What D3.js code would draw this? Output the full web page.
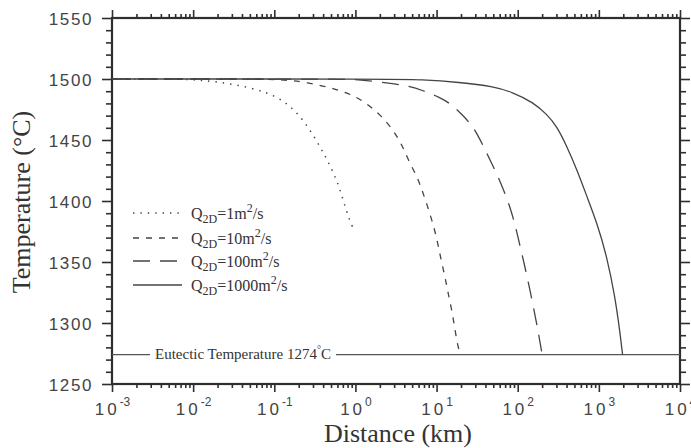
<!DOCTYPE html>
<html>
<head>
<meta charset="utf-8">
<script src="https://cdn.jsdelivr.net/npm/d3@7"></script>
<style>
  body { margin: 0; background: #fff; }
  svg { display: block; }
</style>
</head>
<body>
<div id="chart"></div>
<script>
// values: distance (km), temperature (C)
var q1Dist = [0.001, 0.006, 0.0122, 0.031, 0.0813, 0.1436, 0.226, 0.336, 0.447, 0.593, 0.703, 0.857, 0.95];
var q1Temp = [1500, 1500, 1499.3, 1496, 1489.5, 1480.5, 1467, 1449, 1434, 1417, 1401, 1383, 1377];

var q10Dist = [0.001, 0.06, 0.117, 0.253, 0.593, 0.908, 1.31, 2.01, 2.90, 3.75, 4.45, 5.74, 6.62, 7.62, 8.79, 10.1, 11.0, 12.7, 13.8, 15.5, 16.9, 18.4, 19.8];
var q10Temp = [1500, 1500, 1499.6, 1497.5, 1491.5, 1487, 1481, 1471, 1458.5, 1446, 1434, 1420, 1409, 1397, 1384, 1369, 1356, 1338, 1325, 1310, 1294, 1280, 1274];

var q100Dist = [0.001, 0.6, 1.14, 2.67, 4.71, 6.62, 11.0, 15.5, 23.7, 31.5, 43.0, 60.5, 85.1, 101, 123, 150, 178, 200];
var q100Temp = [1500, 1500, 1499.6, 1496.5, 1494, 1490.8, 1485, 1479, 1467, 1456, 1437, 1417, 1391, 1370, 1346, 1319, 1294, 1274];

var q1000Dist = [0.001, 3, 6.25, 19.4, 49.6, 87.5, 154, 230, 305, 405, 538, 714, 949, 1261, 1582, 1823, 1960];
var q1000Temp = [1500, 1500, 1499.6, 1497.3, 1494, 1489, 1481, 1471, 1461, 1444.5, 1425.5, 1403.5, 1382, 1354, 1321.5, 1292, 1274];

var seriesNames = ["1", "10", "100", "1000"];
var eutectic = 1274;

var xMajor = [-3, -2, -1, 0, 1, 2, 3, 4];
var yMajor = [1250, 1300, 1350, 1400, 1450, 1500, 1550];

function base() {
    var w = 691, h = 448;
    var left = 112, right = 680, top = 18, bottom = 384;
    var ink = "#2e2e2e";

    var x = d3.scaleLog().domain([1e-3, 1e4]).range([left, right]);
    var y = d3.scaleLinear().domain([1250, 1550]).range([bottom, top]);

    var svg = d3.select("#chart")
        .append("svg")
        .attr("width", w)
        .attr("height", h);

    // minor tick values
    var xMinor = [];
    for (var e = -3; e < 4; e++) {
        for (var m = 2; m <= 9; m++) xMinor.push(m * Math.pow(10, e));
    }
    var yMinor = d3.range(1250, 1551, 10).filter(function(v) { return v % 50 != 0; });
    var xMajorVals = xMajor.map(function(e) { return Math.pow(10, e); });

    function styleAxis(g) {
        g.select(".domain").remove();
        g.selectAll("line").attr("stroke", ink).attr("stroke-width", 1.6);
    }

    // bottom / top
    svg.append("g").attr("transform", "translate(0," + bottom + ")")
        .call(d3.axisBottom(x).tickValues(xMinor).tickSize(4).tickFormat("")).call(styleAxis);
    var bx = svg.append("g").attr("transform", "translate(0," + bottom + ")")
        .call(d3.axisBottom(x).tickValues(xMajorVals).tickSize(8).tickFormat("")).call(styleAxis);
    svg.append("g").attr("transform", "translate(0," + top + ")")
        .call(d3.axisTop(x).tickValues(xMinor).tickSize(4).tickFormat("")).call(styleAxis);
    svg.append("g").attr("transform", "translate(0," + top + ")")
        .call(d3.axisTop(x).tickValues(xMajorVals).tickSize(8).tickFormat("")).call(styleAxis);

    // left / right
    svg.append("g").attr("transform", "translate(" + left + ",0)")
        .call(d3.axisLeft(y).tickValues(yMinor).tickSize(6).tickFormat("")).call(styleAxis);
    var ly = svg.append("g").attr("transform", "translate(" + left + ",0)")
        .call(d3.axisLeft(y).tickValues(yMajor).tickSize(10).tickFormat("")).call(styleAxis);
    svg.append("g").attr("transform", "translate(" + right + ",0)")
        .call(d3.axisRight(y).tickValues(yMinor).tickSize(6).tickFormat("")).call(styleAxis);
    svg.append("g").attr("transform", "translate(" + right + ",0)")
        .call(d3.axisRight(y).tickValues(yMajor).tickSize(10).tickFormat("")).call(styleAxis);

    // frame
    svg.append("rect")
        .attr("x", left).attr("y", top)
        .attr("width", right - left).attr("height", bottom - top)
        .attr("fill", "none").attr("stroke", ink).attr("stroke-width", 2.2);

    // y tick labels
    ly.selectAll(".tick").append("text")
        .attr("x", -19).attr("dy", "0.36em")
        .attr("text-anchor", "end")
        .attr("fill", "#444")
        .style("font-family", "Liberation Sans, Arial, sans-serif")
        .style("font-size", "17px")
        .style("letter-spacing", "1.6px")
        .text(function(d) { return d; });

    // x tick labels 10^n
    bx.selectAll(".tick").each(function(d) {
        var ex = Math.round(Math.log10(d));
        var t = d3.select(this).append("text")
            .attr("y", 31)
            .attr("text-anchor", "middle")
            .attr("fill", "#444")
            .style("font-family", "Liberation Sans, Arial, sans-serif")
            .style("font-size", "17px");
        t.append("tspan").style("letter-spacing", "3px").text("10");
        t.append("tspan").attr("dy", -9).style("font-size", "12px")
            .text(ex < 0 ? "-" + Math.abs(ex) : ex);
    });

    // axis titles
    svg.append("text")
        .attr("x", 398).attr("y", 442)
        .attr("text-anchor", "middle")
        .attr("fill", "#333")
        .style("font-family", "Liberation Serif, Times New Roman, serif")
        .style("font-size", "26px")
        .text("Distance (km)");

    svg.append("text")
        .attr("transform", "translate(30," + 202 + ") rotate(-90)")
        .attr("text-anchor", "middle")
        .attr("fill", "#333")
        .style("font-family", "Liberation Serif, Times New Roman, serif")
        .style("font-size", "26px")
        .text("Temperature (\u00B0C)");

    // eutectic line and label
    svg.append("line")
        .attr("x1", x(1e-3)).attr("x2", x(1e4))
        .attr("y1", y(eutectic)).attr("y2", y(eutectic))
        .attr("stroke", "#555").attr("stroke-width", 1.3);

    var eut = svg.append("text")
        .attr("x", 155).attr("y", y(eutectic) + 4.5)
        .attr("fill", "#333")
        .style("font-family", "Liberation Serif, Times New Roman, serif")
        .style("font-size", "15px");
    eut.append("tspan").text("Eutectic Temperature 1274");
    eut.append("tspan").attr("dy", -6).style("font-size", "10px").text("\u00B0");
    eut.append("tspan").attr("dy", 6).text("C");
    var bb = eut.node().getBBox();
    svg.insert("rect", function() { return eut.node(); })
        .attr("x", bb.x - 5).attr("y", bb.y)
        .attr("width", bb.width + 10).attr("height", bb.height)
        .attr("fill", "#fff");

    // curves
    var series = [
        { dist: q1Dist, temp: q1Temp, dash: "1.4,6", width: 1.5 },
        { dist: q10Dist, temp: q10Temp, dash: "6,7", width: 1.3 },
        { dist: q100Dist, temp: q100Temp, dash: "17,10", width: 1.3 },
        { dist: q1000Dist, temp: q1000Temp, dash: null, width: 1.3 }
    ];

    var line = d3.line()
        .x(function(d) { return x(d[0]); })
        .y(function(d) { return y(d[1]); })
        .curve(d3.curveBasis);

    series.forEach(function(s) {
        var pts = s.dist.map(function(v, i) { return [v, s.temp[i]]; });
        svg.append("path")
            .attr("d", line(pts))
            .attr("fill", "none")
            .attr("stroke", "#444")
            .attr("stroke-width", s.width)
            .attr("stroke-dasharray", s.dash);
    });

    // legend
    var legendY = [213, 238, 261, 285];
    series.forEach(function(s, i) {
        var g = svg.append("g").attr("transform", "translate(0," + legendY[i] + ")");
        g.append("line")
            .attr("x1", 133).attr("x2", 182)
            .attr("stroke", "#444")
            .attr("stroke-width", s.width)
            .attr("stroke-dasharray", s.dash);
        var t = g.append("text")
            .attr("x", 191).attr("y", 6)
            .attr("fill", "#333")
            .style("font-family", "Liberation Serif, Times New Roman, serif")
            .style("font-size", "16px");
        t.append("tspan").text("Q");
        t.append("tspan").attr("dy", 4).style("font-size", "12px").text("2D");
        t.append("tspan").attr("dy", -4).text("=" + seriesNames[i] + "m");
        t.append("tspan").attr("dy", -7).style("font-size", "12px").text("2");
        t.append("tspan").attr("dy", 7).text("/s");
    });
}

window.onload = base;
</script>
</body>
</html>
